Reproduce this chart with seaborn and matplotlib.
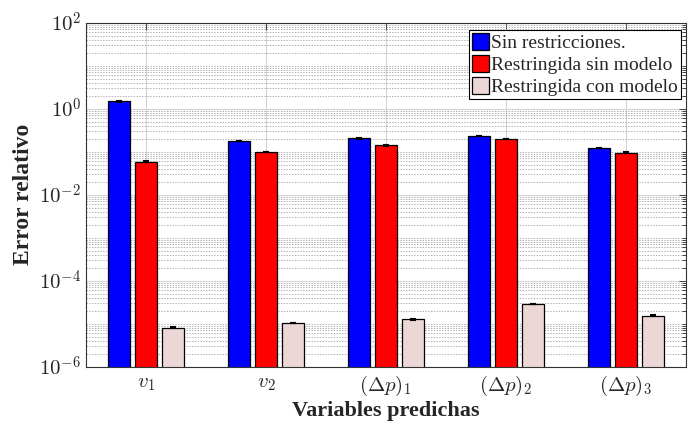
import numpy as np
import pandas as pd
import matplotlib
matplotlib.use('Agg')
import matplotlib.pyplot as plt
import seaborn as sns
from matplotlib.container import BarContainer
from matplotlib.ticker import LogLocator, NullFormatter

# Data
categories = [r'$v_1$', r'$v_2$', r'$(\Delta p)_1$', r'$(\Delta p)_2$', r'$(\Delta p)_3$']
series_names = ['Sin restricciones.', 'Restringida sin modelo', 'Restringida con modelo']
sin_restricciones = [1.49, 0.177, 0.205, 0.232, 0.122]
restringida_sin_modelo = [0.0585, 0.098, 0.141, 0.197, 0.095]
restringida_con_modelo = [8.1e-6, 1.04e-5, 1.26e-5, 2.87e-5, 1.53e-5]
rel_error = 0.02
colors = ['#0000ff', '#ff0000', '#ecd6d6']
ytick_vals = [1e-6, 1e-4, 1e-2, 1e0, 1e2]
ytick_labels = [r'$10^{-6}$', r'$10^{-4}$', r'$10^{-2}$', r'$10^{0}$', r'$10^{2}$']

df = pd.DataFrame({
    'variable': categories * 3,
    'serie': np.repeat(series_names, len(categories)),
    'error': sin_restricciones + restringida_sin_modelo + restringida_con_modelo,
})

sns.set_style('white')
plt.rcParams['font.family'] = ['Liberation Serif', 'DejaVu Serif']
plt.rcParams['mathtext.fontset'] = 'cm'

fig = plt.figure(figsize=(6.97, 4.28), dpi=100)
ax = fig.add_axes([0.1234, 0.1432, 0.8606, 0.8038])
ax.set_yscale('log')

sns.barplot(data=df, x='variable', y='error', hue='serie', hue_order=series_names,
            order=categories, palette=colors, width=0.672, gap=0.18,
            edgecolor='black', linewidth=0.9, saturation=1, ax=ax, zorder=2)

# error bars on top of each bar
bar_conts = [c for c in ax.containers if isinstance(c, BarContainer)]
for cont in bar_conts:
    xs = [p.get_x() + p.get_width() / 2 for p in cont.patches]
    hs = [p.get_y() + p.get_height() for p in cont.patches]
    ax.errorbar(xs, hs, yerr=np.array(hs) * rel_error, fmt='none', ecolor='black',
                elinewidth=1, capsize=2.5, capthick=1.5, zorder=3)

ax.set_ylim(1e-6, 1e2)
ax.set_xlim(-0.5, 4.5)
ax.set_yticks(ytick_vals)
ax.set_yticklabels(ytick_labels, fontsize=15)
ax.yaxis.set_minor_locator(LogLocator(base=10, subs=np.arange(1, 10), numticks=100))
ax.yaxis.set_minor_formatter(NullFormatter())
ax.tick_params(axis='x', labelsize=15, pad=5)
ax.tick_params(which='both', direction='in', right=True, top=True, width=0.6)
ax.tick_params(which='major', length=5)
ax.tick_params(which='minor', length=3)

ax.grid(which='major', axis='y', color='#d4d4d4', ls='-', lw=0.8)
ax.grid(which='minor', axis='y', color='#909090', ls=(0, (2, 2)), lw=0.5)
ax.grid(which='major', axis='x', color='#d4d4d4', ls='-', lw=0.8)
ax.set_axisbelow(True)

for s in ax.spines.values():
    s.set_color('#333333')
    s.set_linewidth(0.8)

ax.set_xlabel('Variables predichas', fontsize=16, fontweight='bold', labelpad=2)
ax.set_ylabel('Error relativo', fontsize=17, fontweight='bold', labelpad=4)

handles, labels = ax.get_legend_handles_labels()
leg = ax.legend(handles, labels, loc='upper right', bbox_to_anchor=(0.992, 0.979),
                borderaxespad=0, fontsize=14, fancybox=False, framealpha=1,
                edgecolor='black', handlelength=0.9, handleheight=0.95,
                handletextpad=0.1, labelspacing=0.15, borderpad=0.15)
leg.get_frame().set_linewidth(0.8)

fig.savefig('out.png', dpi=100)
